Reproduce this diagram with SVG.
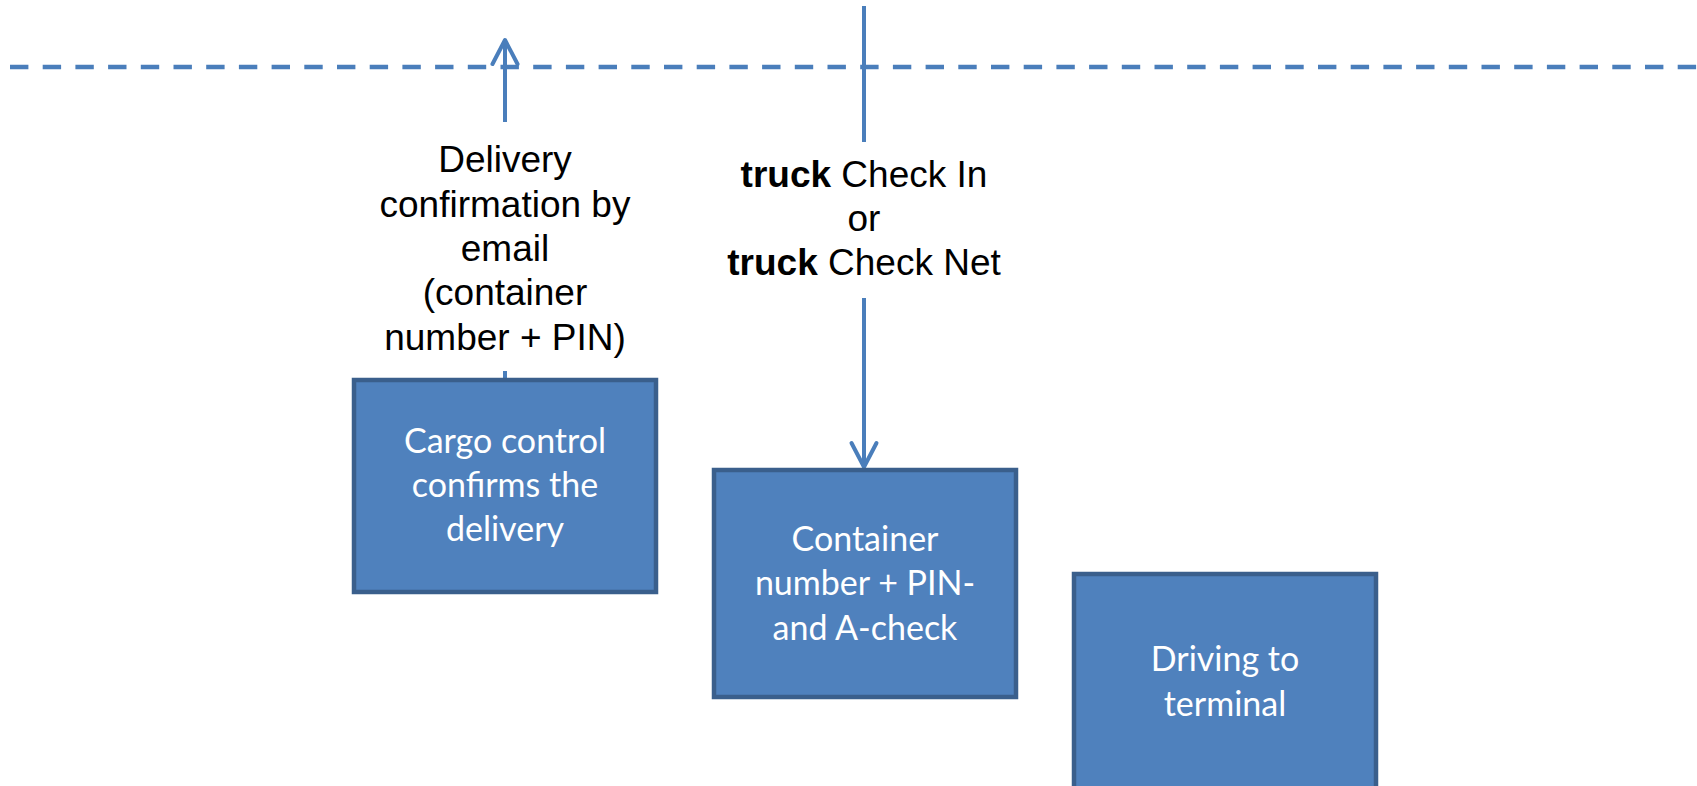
<svg xmlns="http://www.w3.org/2000/svg" width="1697" height="786" viewBox="0 0 1697 786">
  <style>
    .box { fill: #4F81BD; stroke: #3A5F8C; stroke-width: 4.5; }
    .btxt { font-family: Lato, "Open Sans", sans-serif; font-size: 34px; fill: #FFFFFF; text-anchor: middle; }
    .ltxt { font-family: "Liberation Sans", Arial, sans-serif; font-size: 37px; fill: #000000; text-anchor: middle; }
    .conn { stroke: #4A7EBB; stroke-width: 4; fill: none; }
    .dash { stroke: #4A7EBB; stroke-width: 4.5; fill: none; stroke-dasharray: 18.4 14.3; }
    .lbg { fill: #FFFFFF; }
  </style>
  <defs>
    <marker id="openArrow" markerUnits="userSpaceOnUse" markerWidth="40" markerHeight="40" refX="0" refY="0" viewBox="-30 -20 40 40" orient="auto" overflow="visible">
      <path d="M -24,-12.5 L 0,0 L -24,12.5" fill="none" stroke="#4A7EBB" stroke-width="4" stroke-linecap="round" stroke-linejoin="round"/>
    </marker>
  </defs>
  <rect x="0" y="0" width="1697" height="786" fill="#FFFFFF"/>

  <g id="connectors">
    <line class="dash" x1="10" y1="67" x2="1697" y2="67"/>
    <line id="conn-confirm" class="conn" x1="505" y1="380" x2="505" y2="40" marker-end="url(#openArrow)"/>
    <line id="conn-checkin" class="conn" x1="864" y1="6" x2="864" y2="467" marker-end="url(#openArrow)"/>
  </g>

  <g id="label-delivery">
    <rect class="lbg" x="360" y="122" width="290" height="249"/>
    <text class="ltxt" x="505" y="172">Delivery</text>
    <text class="ltxt" x="505" y="217">confirmation by</text>
    <text class="ltxt" x="505" y="261">email</text>
    <text class="ltxt" x="505" y="305">(container</text>
    <text class="ltxt" x="505" y="350">number + PIN)</text>
  </g>

  <g id="label-truck">
    <rect class="lbg" x="715" y="142" width="300" height="156"/>
    <text class="ltxt" x="864" y="187"><tspan font-weight="bold">truck</tspan> Check In</text>
    <text class="ltxt" x="864" y="231">or</text>
    <text class="ltxt" x="864" y="275"><tspan font-weight="bold">truck</tspan> Check Net</text>
  </g>

  <g id="node-cargo-control">
    <rect class="box" x="354" y="380" width="302" height="212"/>
    <text class="btxt" x="505" y="453">Cargo control</text>
    <text class="btxt" x="505" y="497">confirms the</text>
    <text class="btxt" x="505" y="541">delivery</text>
  </g>

  <g id="node-container-check">
    <rect class="box" x="714" y="470" width="302" height="227"/>
    <text class="btxt" x="865" y="551">Container</text>
    <text class="btxt" x="865" y="595">number + PIN-</text>
    <text class="btxt" x="865" y="640">and A-check</text>
  </g>

  <g id="node-driving">
    <rect class="box" x="1074" y="574" width="302" height="230"/>
    <text class="btxt" x="1225" y="671">Driving to</text>
    <text class="btxt" x="1225" y="716">terminal</text>
  </g>
</svg>
